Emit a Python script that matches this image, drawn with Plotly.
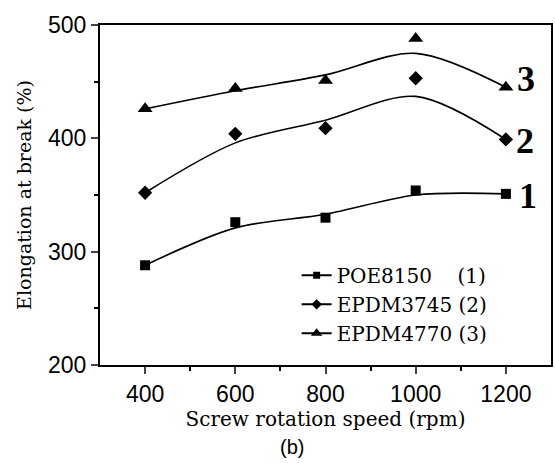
import plotly.graph_objects as go

# --- data ---
speed = [400, 600, 800, 1000, 1200]
poe8150 = [288, 326, 330, 354, 351]
epdm3745 = [352, 404, 409, 453, 399]
epdm4770 = [426, 444, 451, 488, 445]

# smooth fit curves
fit_poe8150 = [288, 321, 333, 350, 351]
fit_epdm3745 = [352, 396, 416, 437, 399]
fit_epdm4770 = [426, 442, 456, 475, 445]

names = ["POE8150\u00a0\u00a0\u00a0\u00a0(1)", "EPDM3745\u00a0(2)", "EPDM4770\u00a0(3)"]
symbols = ["square", "diamond", "triangle-up"]
msizes = [10, 11, 13]
curve_labels = ["1", "2", "3"]
label_x = [1248, 1242, 1245]
label_y = [349, 398, 452]

SERIF = "DejaVu Serif"

fig = go.Figure()
for vals, fit, nm, sym, ms in zip([poe8150, epdm3745, epdm4770],
                                  [fit_poe8150, fit_epdm3745, fit_epdm4770],
                                  names, symbols, msizes):
    fig.add_trace(go.Scatter(x=speed, y=fit, mode="lines", line=dict(color="black", width=1.6, shape="spline", smoothing=0.9),
                             showlegend=False, hoverinfo="skip"))
    fig.add_trace(go.Scatter(x=speed, y=vals, mode="markers", marker=dict(symbol=sym, size=ms, color="black"),
                             showlegend=False))
    fig.add_trace(go.Scatter(x=[None], y=[None], mode="lines+markers", name=nm,
                             line=dict(color="black", width=2),
                             marker=dict(symbol=sym, size=ms - 3, color="black")))

for t, lx, ly in zip(curve_labels, label_x, label_y):
    fig.add_annotation(x=lx, y=ly, xref="x", yref="y", text="<b>%s</b>" % t, showarrow=False,
                       font=dict(family="Liberation Serif", size=36, color="black"), xanchor="center", yanchor="middle")

fig.add_annotation(xref="paper", yref="paper", x=(293 - 100) / 453, y=(365 - 447) / 340, text="(b)",
                   showarrow=False, xanchor="center", yanchor="middle",
                   font=dict(family="Liberation Sans", size=20, color="black"))

fig.update_layout(
    width=555, height=463,
    margin=dict(l=100, r=2, t=25, b=98),
    paper_bgcolor="white", plot_bgcolor="white",
    font=dict(family=SERIF, color="black"),
    legend=dict(x=0.436, y=0.321, xanchor="left", yanchor="top", bgcolor="rgba(0,0,0,0)",
                font=dict(family=SERIF, size=20, color="black"), tracegroupgap=0),
)
fig.update_xaxes(range=[300, 1300], tickvals=speed, ticks="outside", ticklen=7, tickwidth=2,
                 showline=True, linewidth=2, linecolor="black", mirror=True, showgrid=False, zeroline=False,
                 tickfont=dict(family="Liberation Sans", size=23, color="black"),
                 minor=dict(tickvals=[500, 700, 900, 1100], ticks="outside", ticklen=4, tickwidth=2, tickcolor="black"),
                 title=dict(text="Screw rotation speed (rpm)", font=dict(family=SERIF, size=20), standoff=5))
fig.update_yaxes(range=[200, 500], tickvals=[200, 300, 400, 500], ticks="outside", ticklen=7, tickwidth=2,
                 showline=True, linewidth=2, linecolor="black", mirror=True, showgrid=False, zeroline=False,
                 tickfont=dict(family="Liberation Sans", size=23, color="black"),
                 minor=dict(tickvals=[250, 350, 450], ticks="outside", ticklen=4, tickwidth=2, tickcolor="black"),
                 title=dict(text="Elongation at break (%)", font=dict(family=SERIF, size=19), standoff=11))

fig.write_html("out.html")
